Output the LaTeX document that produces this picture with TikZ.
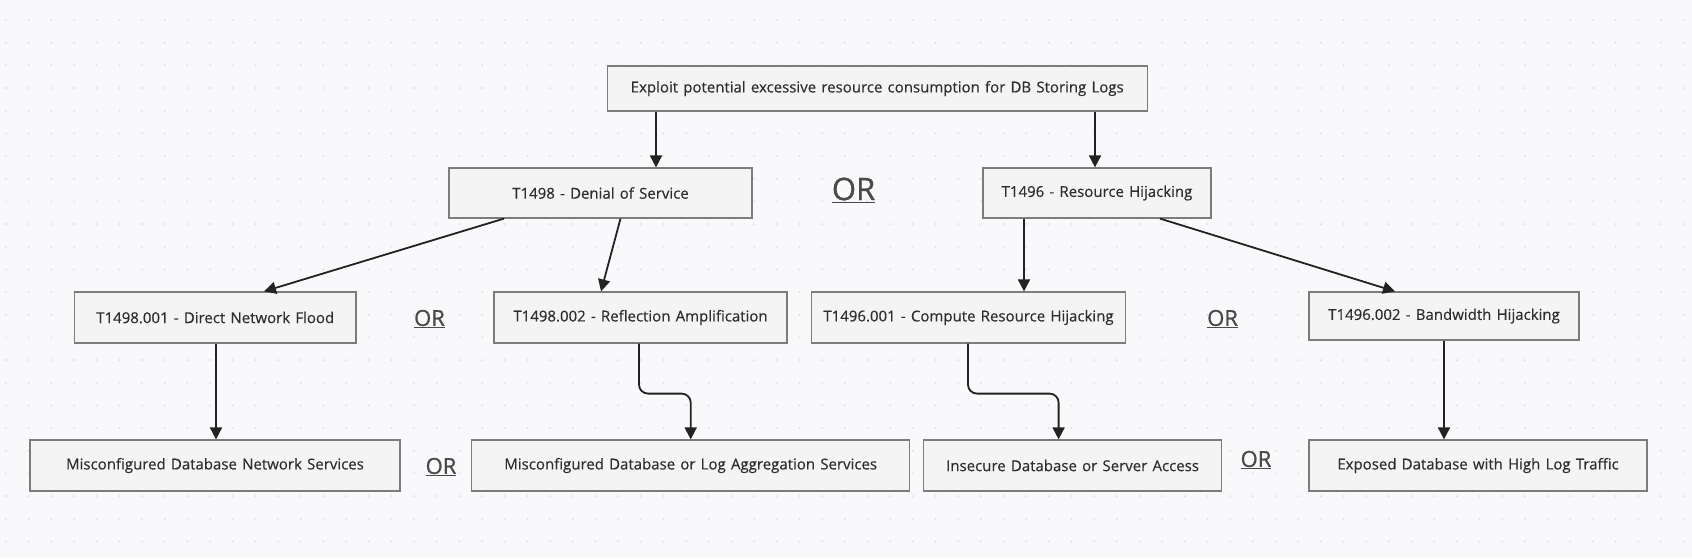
\documentclass[tikz,border=0pt]{standalone}
\usepackage{fontspec}
\setmainfont{Open Sans}[FakeBold=0.35]
\newfontfamily\orfont{Open Sans}[FakeBold=0.9]
\usetikzlibrary{arrows.meta}
\definecolor{bg}{HTML}{F9F9FB}
\definecolor{dotc}{HTML}{E1E1E5}
\definecolor{boxfill}{HTML}{F4F4F4}
\definecolor{boxline}{HTML}{7C7C7C}
\definecolor{txt}{HTML}{2E2E2E}
\definecolor{arrc}{HTML}{222222}
\definecolor{orc}{HTML}{4A4A4A}
\newcommand{\boxfont}{\fontsize{15}{17}\selectfont\spaceskip=5.2pt plus 1pt\relax}
\begin{document}
\begin{tikzpicture}[x=1pt,y=-1pt,
  box/.style={draw=boxline, fill=boxfill, line width=1.2pt, inner sep=0pt,
    text=txt, font=\boxfont},
  arr/.style={draw=arrc, line width=1.8pt, -{Triangle[length=12pt,width=12pt]}},
  orbig/.style={text=orc, font=\orfont\fontsize{31}{34}\selectfont},
  orsmall/.style={text=orc, font=\orfont\fontsize{22}{25}\selectfont}]
\fill[bg] (0,0) rectangle (1692,558);
\useasboundingbox (0,0) rectangle (1692,558);
\foreach \i in {0,...,74}{
  \foreach \j in {0,...,23}{
    \fill[dotc] (6+22.67*\i, 20+22.67*\j) circle (1.1pt);
  }
}
% nodes
\node[box, minimum width=540pt, minimum height=45pt] (top) at (877.25,88.5)
  {Exploit potential excessive resource consumption for DB Storing Logs};
\node[box, minimum width=303pt, minimum height=50pt] (t1498) at (600.5,193)
  {T1498 - Denial of Service};
\node[box, minimum width=228pt, minimum height=50pt] (t1496) at (1097,193)
  {T1496 - Resource Hijacking};
\node[orbig] (or0) at (853.6,190) {\underline{OR}};

\node[box, minimum width=281.5pt, minimum height=51pt] (a1) at (215.25,317.5)
  {T1498.001 - Direct Network Flood};
\node[box, minimum width=293pt, minimum height=51pt] (a2) at (640.5,317.5)
  {T1498.002 - Reflection Amplification};
\node[box, minimum width=314pt, minimum height=51pt] (b1) at (968.5,317.5)
  {T1496.001 - Compute Resource Hijacking};
\node[box, minimum width=270pt, minimum height=48pt] (b2) at (1444,316)
  {T1496.002 - Bandwidth Hijacking};
\node[orsmall] (or1) at (429.5,319) {\underline{OR}};
\node[orsmall] (or2) at (1222.6,319) {\underline{OR}};

\node[box, minimum width=370pt, minimum height=51pt] (c1) at (215,465.5)
  {Misconfigured Database Network Services};
\node[box, minimum width=438pt, minimum height=51pt] (c2) at (690.7,465.5)
  {Misconfigured Database or Log Aggregation Services};
\node[box, minimum width=298pt, minimum height=51pt] (c3) at (1072.6,465.5)
  {Insecure Database or Server Access};
\node[box, minimum width=338pt, minimum height=51pt] (c4) at (1478,465.5)
  {Exposed Database with High Log Traffic};
\node[orsmall] (or3) at (441,467) {\underline{OR}};
\node[orsmall] (or4) at (1256,460) {\underline{OR}};

% connectors
\draw[arr] ([xshift=-221.25pt]top.south) -- ([xshift=55.5pt]t1498.north);
\draw[arr] ([xshift=217.75pt]top.south) -- ([xshift=-2pt]t1496.north);
\draw[arr] ([xshift=-96.5pt]t1498.south) -- ([xshift=48.75pt]a1.north);
\draw[arr] ([xshift=20pt]t1498.south) -- ([xshift=-39.5pt]a2.north);
\draw[arr] ([xshift=-73pt]t1496.south) -- ([xshift=55.5pt]b1.north);
\draw[arr] ([xshift=63pt]t1496.south) -- ([xshift=-49pt]b2.north);
\draw[arr] ([xshift=0.75pt]a1.south) -- ([xshift=0.75pt]a1.south |- c1.north);
\draw[arr, rounded corners=9pt] ([xshift=-1.5pt]a2.south) -- ++(0,50) -| (c2.north);
\draw[arr, rounded corners=9pt] ([xshift=-0.5pt]b1.south) -- ++(0,50) -| ([xshift=-14pt]c3.north);
\draw[arr] (b2.south) -- (b2.south |- c4.north);
\end{tikzpicture}
\end{document}
